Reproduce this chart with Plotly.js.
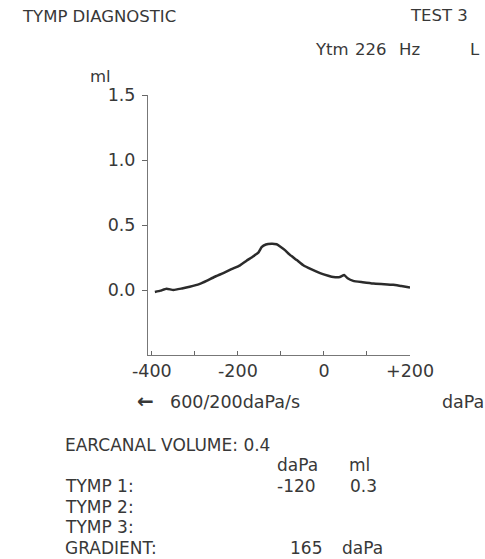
<!DOCTYPE html>
<html>
<head>
<meta charset="utf-8">
<script src="https://cdn.plot.ly/plotly-3.0.1.min.js"></script>
<style>html,body{margin:0;padding:0;background:#fff;}#chart{width:485px;height:559px;}</style>
</head>
<body>
<div id="chart"></div>
<script>
// Pressure (daPa) and compliance (ml)
var pressure = [-393,-380,-366,-350,-330,-312,-290,-273,-255,-234,-215,-195,-180,-164,-152,-145,-135,-122,-110,-102,-90,-79,-63,-48,-30,-9,10,22,37,47,55,68,90,115,140,161,180,200];
var compliance = [-0.015,-0.005,0.01,0.0,0.012,0.025,0.045,0.07,0.1,0.13,0.16,0.19,0.225,0.26,0.29,0.33,0.35,0.355,0.352,0.335,0.305,0.27,0.23,0.19,0.16,0.13,0.11,0.1,0.1,0.115,0.09,0.07,0.06,0.05,0.045,0.04,0.03,0.02];
var xTickVals = [-400,-300,-200,-100,0,100,200];
var xTickText = ['-400','','-200','','0','','+200'];
var yTickVals = [0,0.5,1.0,1.5];
var yTickText = ['0.0','0.5','1.0','1.5'];

var L=148, T=95, W=262, H=260;
function px(x){return (x-L)/W;}
function py(y){return (T+H-y)/H;}
var C='#383838';
var F='DejaVu Sans';
function ann(text,x,y,anchor,size){
  return {text:text,xref:'paper',yref:'paper',x:px(x),y:py(y),xanchor:anchor||'left',yanchor:'middle',showarrow:false,font:{family:F,size:size||16.5,color:C}};
}
var annotations = [
  ann('TYMP DIAGNOSTIC',20,17),
  ann('TEST 3',470,15,'right'),
  ann('Ytm',313,50),
  ann('226',353,50),
  ann('Hz',397,50),
  ann('L',468,50),
  ann('ml',88,76),
  ann('<b>\u2190</b>',135,401,'left',20),
  ann('600/200daPa/s',168,402,'left',17.5),
  ann('daPa',440,402,'left',17.5),
  ann('EARCANAL VOLUME: 0.4',63,445,'left',17),
  ann('daPa',275,465,'left',17),
  ann('ml',347,465,'left',17),
  ann('TYMP 1:',63,486,'left',17),
  ann('-120',275,486,'left',17),
  ann('0.3',348,486,'left',17),
  ann('TYMP 2:',63,507,'left',17),
  ann('TYMP 3:',63,527,'left',17),
  ann('GRADIENT:',63,548,'left',17),
  ann('165',288,548,'left',17),
  ann('daPa',340,548,'left',17)
];

var trace = {x:pressure,y:compliance,type:'scatter',mode:'lines',line:{color:'#2b2b2b',width:2.5,shape:'spline',smoothing:0.4},hoverinfo:'skip'};
var layout = {
  width:485,height:559,
  margin:{l:L,r:485-L-W,t:T,b:559-T-H,pad:0},
  paper_bgcolor:'#fff',plot_bgcolor:'#fff',
  showlegend:false,
  xaxis:{range:[-409,200],tickvals:xTickVals,ticktext:xTickText,ticks:'inside',ticklen:4,tickcolor:'#666',showgrid:false,zeroline:false,showline:true,linecolor:'#777',linewidth:1,tickfont:{family:F,size:17.5,color:C},fixedrange:true},
  yaxis:{range:[-0.5,1.5],tickvals:yTickVals,ticktext:yTickText,ticks:'outside',ticklen:5,tickcolor:'#666',showgrid:false,zeroline:false,showline:true,linecolor:'#777',linewidth:1,tickfont:{family:F,size:17.5,color:C},ticklabelstandoff:3,fixedrange:true},
  annotations:annotations
};
Plotly.newPlot('chart',[trace],layout,{staticPlot:true,displayModeBar:false});
</script>
</body>
</html>
